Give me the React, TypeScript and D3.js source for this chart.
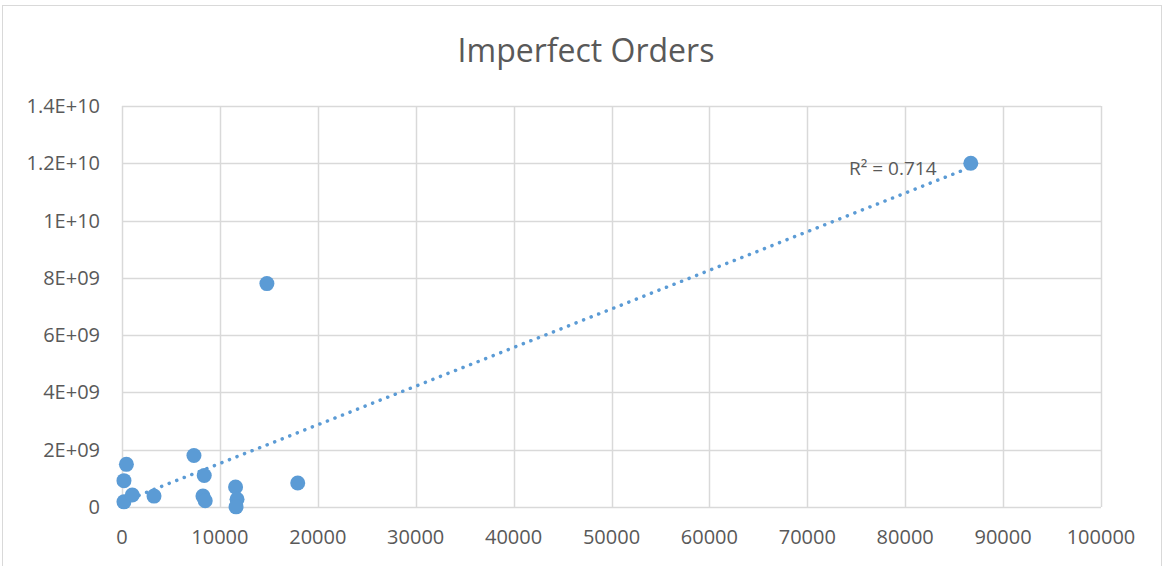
import React, { useEffect, useRef } from "react";
import * as d3 from "d3";

const ordersX = [200, 200, 450, 1050, 3270, 7350, 8400, 8270, 8500, 11600, 11750, 11650, 17950, 14800, 86700];
const costY = [1.8e8, 9.2e8, 1.49e9, 4.2e8, 3.8e8, 1.8e9, 1.1e9, 3.8e8, 2.2e8, 7.0e8, 2.7e8, 0.05e8, 8.4e8, 7.8e9, 1.2e10];
const xTicks = [0, 10000, 20000, 30000, 40000, 50000, 60000, 70000, 80000, 90000, 100000];
const yTicks = [0, 2e9, 4e9, 6e9, 8e9, 1e10, 1.2e10, 1.4e10];
const yTickLabels = ["0", "2E+09", "4E+09", "6E+09", "8E+09", "1E+10", "1.2E+10", "1.4E+10"];
const chartTitle = "Imperfect Orders";
const r2Label = "R² = 0.714";

const W = 1164;
const H = 566;
const BLUE = "#5b9bd5";
const TEXT = "#595959";
const GRID = "#d9d9d9";
const FONT = "'Open Sans', 'Liberation Sans', sans-serif";

const App = () => {
  const svgRef = useRef<SVGSVGElement>(null);

  useEffect(() => {
    const svg = d3.select(svgRef.current);
    svg.selectAll("*").remove();

    const x = d3.scaleLinear().domain([0, 100000]).range([122, 1101]);
    const y = d3.scaleLinear().domain([0, 1.4e10]).range([507, 106]);

    // chart frame
    svg
      .append("rect")
      .attr("x", 2.5)
      .attr("y", 5.5)
      .attr("width", W - 5)
      .attr("height", H + 20)
      .attr("fill", "#fff")
      .attr("stroke", GRID);

    // title
    svg
      .append("text")
      .attr("x", 586)
      .attr("y", 62)
      .attr("text-anchor", "middle")
      .attr("font-family", FONT)
      .attr("font-size", 32)
      .attr("fill", TEXT)
      .text(chartTitle);

    // gridlines
    svg
      .append("g")
      .selectAll("line")
      .data(xTicks)
      .join("line")
      .attr("x1", (d) => Math.round(x(d)) + 0.5)
      .attr("x2", (d) => Math.round(x(d)) + 0.5)
      .attr("y1", y(1.4e10))
      .attr("y2", y(0))
      .attr("stroke", GRID)
      .attr("stroke-width", 1.5);

    svg
      .append("g")
      .selectAll("line")
      .data(yTicks)
      .join("line")
      .attr("x1", x(0))
      .attr("x2", x(100000))
      .attr("y1", (d) => Math.round(y(d)) + 0.5)
      .attr("y2", (d) => Math.round(y(d)) + 0.5)
      .attr("stroke", GRID)
      .attr("stroke-width", 1.5);

    // tick labels
    svg
      .append("g")
      .selectAll("text")
      .data(yTicks)
      .join("text")
      .attr("x", 100)
      .attr("y", (d) => y(d))
      .attr("dy", "0.35em")
      .attr("text-anchor", "end")
      .attr("font-family", FONT)
      .attr("font-size", 20)
      .attr("fill", TEXT)
      .text((d, i) => yTickLabels[i]);

    svg
      .append("g")
      .selectAll("text")
      .data(xTicks)
      .join("text")
      .attr("x", (d) => x(d))
      .attr("y", 537)
      .attr("dy", "0.35em")
      .attr("text-anchor", "middle")
      .attr("font-family", FONT)
      .attr("font-size", 20)
      .attr("fill", TEXT)
      .text((d) => String(d));

    const pts = ordersX.map((v, i) => ({ x: v, y: costY[i] }));

    // linear trendline (least squares)
    const mx = d3.mean(pts, (d) => d.x)!;
    const my = d3.mean(pts, (d) => d.y)!;
    const sxy = d3.sum(pts, (d) => (d.x - mx) * (d.y - my));
    const sxx = d3.sum(pts, (d) => (d.x - mx) ** 2);
    const slope = sxy / sxx;
    const icpt = my - slope * mx;
    const [x0, x1] = d3.extent(pts, (d) => d.x) as [number, number];

    svg
      .append("path")
      .datum([x0, x1])
      .attr(
        "d",
        d3
          .line<number>()
          .x((d) => x(d))
          .y((d) => y(slope * d + icpt))
      )
      .attr("fill", "none")
      .attr("stroke", BLUE)
      .attr("stroke-width", 3.5)
      .attr("stroke-linecap", "round")
      .attr("stroke-dasharray", "0.1 8");

    // points
    svg
      .append("g")
      .selectAll("circle")
      .data(pts)
      .join("circle")
      .attr("cx", (d) => x(d.x))
      .attr("cy", (d) => y(d.y))
      .attr("r", 7.5)
      .attr("fill", BLUE);

    svg
      .append("text")
      .attr("x", 849)
      .attr("y", 168)
      .attr("dy", "0.35em")
      .attr("font-family", FONT)
      .attr("font-size", 19)
      .attr("fill", TEXT)
      .text(r2Label);
  }, []);

  return (
    <svg
      ref={svgRef}
      width={W}
      height={H}
      style={{ position: "absolute", left: 0, top: 0, background: "#fff" }}
    />
  );
};

export default App;
